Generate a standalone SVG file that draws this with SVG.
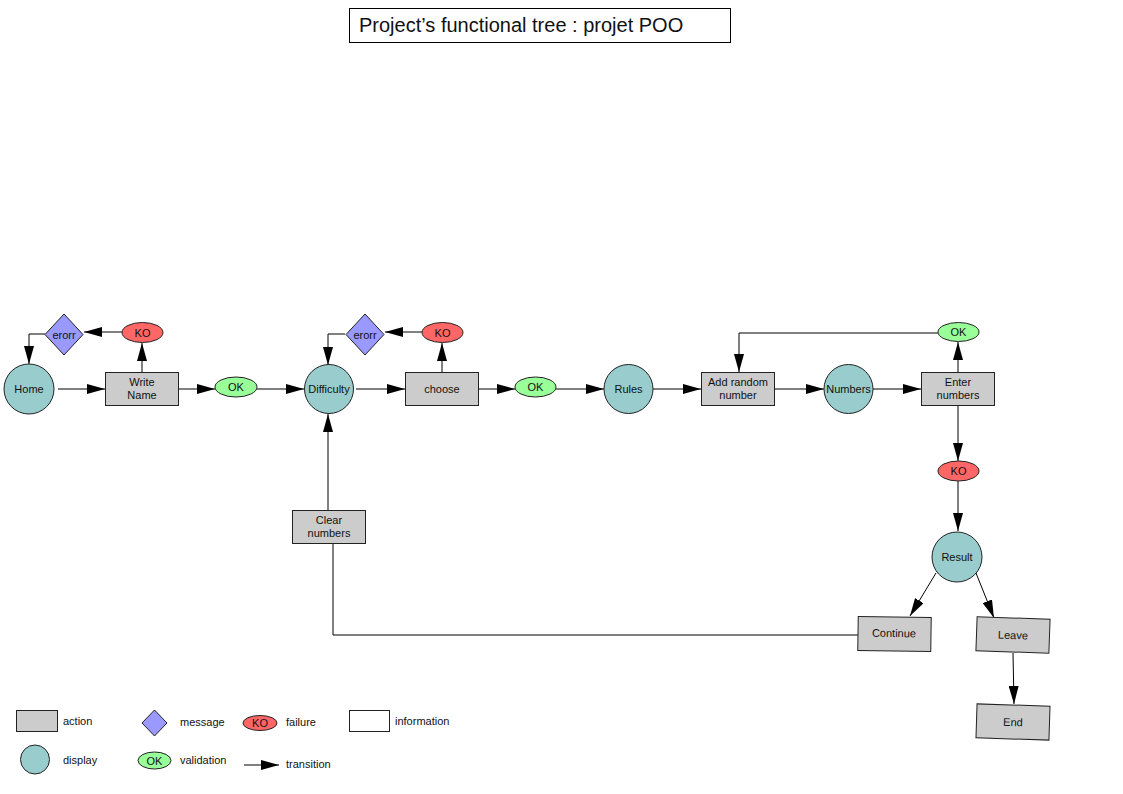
<svg xmlns="http://www.w3.org/2000/svg" width="1123" height="794" viewBox="0 0 1123 794">
<defs>
<marker id="arr" markerUnits="userSpaceOnUse" markerWidth="18" markerHeight="10" refX="18" refY="5" orient="auto">
<path d="M0,0 L18,5 L0,10 z" fill="#000"/>
</marker>
<style>
.t{font-family:"Liberation Sans",Arial,sans-serif;font-size:11px;fill:#111;text-anchor:middle}
.lt{font-family:"Liberation Sans",Arial,sans-serif;font-size:11px;fill:#111}
.act{fill:#cccccc;stroke:#222;stroke-width:1}
.disp{fill:#99cccc;stroke:#222;stroke-width:1}
.msg{fill:#9999ff;stroke:#222;stroke-width:1}
.ko{fill:#ff6666;stroke:#222;stroke-width:1}
.ok{fill:#99ff99;stroke:#222;stroke-width:1}
.info{fill:#fff;stroke:#222;stroke-width:1}
.c{fill:none;stroke:#000;stroke-width:1;marker-end:url(#arr)}
.cn{fill:none;stroke:#000;stroke-width:1}
</style>
</defs>
<rect width="1123" height="794" fill="#fff"/>

<g id="title">
<rect x="349.5" y="8.5" width="381" height="34" fill="#fff" stroke="#000"/>
<text x="359" y="32" style="font-family:'Liberation Sans',Arial,sans-serif;font-size:20px;fill:#111">Project’s functional tree : projet POO</text>
</g>

<g id="connectors">
<line class="c" x1="58" y1="389" x2="105" y2="389"/>
<line class="c" x1="142" y1="372" x2="142" y2="343"/>
<line class="c" x1="122" y1="332" x2="84" y2="332"/>
<polyline class="c" points="45,334 29,334 29,364"/>
<line class="c" x1="178" y1="389" x2="215" y2="389"/>
<line class="c" x1="257" y1="389" x2="304" y2="389"/>
<polyline class="c" points="345,334 328,334 328,365"/>
<line class="c" x1="356" y1="389" x2="405" y2="389"/>
<line class="c" x1="442" y1="372" x2="442" y2="343"/>
<line class="c" x1="422" y1="332" x2="385" y2="332"/>
<line class="c" x1="479" y1="389" x2="515" y2="389"/>
<line class="c" x1="556" y1="389" x2="604" y2="389"/>
<line class="c" x1="653" y1="389" x2="701" y2="389"/>
<line class="c" x1="775" y1="389" x2="824" y2="389"/>
<line class="c" x1="873" y1="389" x2="921" y2="389"/>
<line class="c" x1="958" y1="372" x2="958" y2="342"/>
<polyline class="c" points="938,333 739,333 739,372"/>
<line class="c" x1="958" y1="406" x2="958" y2="461"/>
<line class="c" x1="958" y1="481" x2="958" y2="531"/>
<line class="c" x1="936" y1="573" x2="910" y2="616"/>
<line class="c" x1="976" y1="573" x2="994" y2="618"/>
<line class="c" x1="1013" y1="653" x2="1014" y2="704"/>
<polyline class="cn" points="858,635 333,635 333,543"/>
<line class="c" x1="328" y1="510" x2="328" y2="414"/>
</g>

<g id="home"><circle class="disp" cx="29" cy="389" r="25"/><text class="t" x="29" y="393">Home</text></g>
<g id="write-name"><rect class="act" x="105.5" y="372.5" width="73" height="33"/><text class="t" x="142" y="385.5">Write</text><text class="t" x="142" y="398.5">Name</text></g>
<g id="ko1"><ellipse class="ko" cx="142.5" cy="332.5" rx="20.5" ry="10"/><text class="t" x="142.5" y="336.5">KO</text></g>
<g id="erorr1"><polygon class="msg" points="64,314 83,334.5 64,355 45,334.5"/><text class="t" x="64" y="338.5">erorr</text></g>
<g id="ok1"><ellipse class="ok" cx="236" cy="387" rx="21" ry="10"/><text class="t" x="236" y="391">OK</text></g>
<g id="difficulty"><circle class="disp" cx="329" cy="389" r="24.5"/><text class="t" x="329" y="393">Difficulty</text></g>
<g id="erorr2"><polygon class="msg" points="365,314 384,334.5 365,355 346,334.5"/><text class="t" x="365" y="338.5">erorr</text></g>
<g id="ko2"><ellipse class="ko" cx="442.5" cy="332.5" rx="20.5" ry="10"/><text class="t" x="442.5" y="336.5">KO</text></g>
<g id="choose"><rect class="act" x="405.5" y="372.5" width="73" height="33"/><text class="t" x="442" y="393">choose</text></g>
<g id="ok2"><ellipse class="ok" cx="535.5" cy="387" rx="20.5" ry="10"/><text class="t" x="535.5" y="391">OK</text></g>
<g id="rules"><circle class="disp" cx="628.5" cy="389" r="24.5"/><text class="t" x="628.5" y="393">Rules</text></g>
<g id="add-random"><rect class="act" x="701.5" y="372.5" width="73" height="33"/><text class="t" x="738" y="385.5">Add random</text><text class="t" x="738" y="398.5">number</text></g>
<g id="numbers"><circle class="disp" cx="848.5" cy="389" r="24.5"/><text class="t" x="848.5" y="393">Numbers</text></g>
<g id="enter-numbers"><rect class="act" x="921.5" y="372.5" width="73" height="33"/><text class="t" x="958" y="385.5">Enter</text><text class="t" x="958" y="398.5">numbers</text></g>
<g id="ok3"><ellipse class="ok" cx="958.5" cy="332" rx="20.5" ry="9.5"/><text class="t" x="958.5" y="336">OK</text></g>
<g id="ko4"><ellipse class="ko" cx="958.5" cy="471" rx="20.5" ry="10"/><text class="t" x="958.5" y="475">KO</text></g>
<g id="result"><circle class="disp" cx="957" cy="557" r="25"/><text class="t" x="957" y="561">Result</text></g>
<g id="continue" transform="rotate(0.8 894 634)"><rect class="act" x="858" y="617" width="73" height="34"/><text class="t" x="894" y="637">Continue</text></g>
<g id="leave" transform="rotate(2 1013 635)"><rect class="act" x="976.5" y="618" width="73" height="34"/><text class="t" x="1013" y="639">Leave</text></g>
<g id="end" transform="rotate(1.8 1013 722)"><rect class="act" x="976.5" y="705" width="73" height="34"/><text class="t" x="1013" y="726">End</text></g>
<g id="clear-numbers"><rect class="act" x="292.5" y="510.5" width="73" height="33"/><text class="t" x="329" y="523.5">Clear</text><text class="t" x="329" y="536.5">numbers</text></g>

<g id="legend">
<rect class="act" x="16.5" y="710.5" width="41" height="21"/><text class="lt" x="63" y="725">action</text>
<polygon class="msg" points="154.5,710 167,723 154.5,736 142,723"/><text class="lt" x="180" y="726">message</text>
<ellipse class="ko" cx="260" cy="723" rx="17" ry="7.5"/><text class="t" x="260" y="727">KO</text><text class="lt" x="286" y="726">failure</text>
<rect class="info" x="349.5" y="710.5" width="40" height="21"/><text class="lt" x="395" y="725">information</text>
<circle class="disp" cx="35" cy="759.5" r="14.5"/><text class="lt" x="63" y="764">display</text>
<ellipse class="ok" cx="154.5" cy="760.5" rx="16.5" ry="8.5"/><text class="t" x="154.5" y="764.5">OK</text><text class="lt" x="180" y="764">validation</text>
<line class="c" x1="244" y1="765" x2="279" y2="765"/><text class="lt" x="286" y="768">transition</text>
</g>
</svg>
